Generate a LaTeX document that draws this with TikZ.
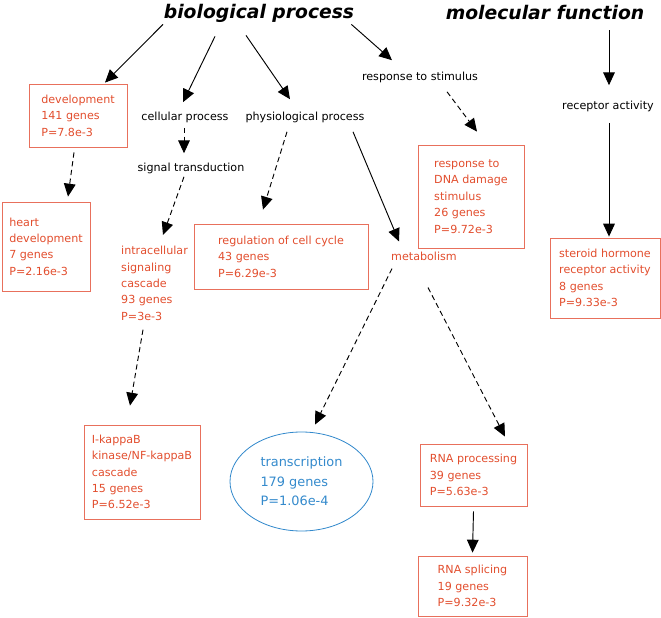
\documentclass[tikz,border=0pt]{standalone}
\usepackage{fontspec}
\setmainfont{DejaVu Sans}
\usetikzlibrary{arrows.meta,positioning,calc,shapes.geometric}
\definecolor{termred}{RGB}{226,78,46}
\definecolor{boxred}{RGB}{232,112,92}
\definecolor{termblue}{RGB}{52,138,204}

\begin{document}
\begin{tikzpicture}[
    x=0.03cm, y=-0.03cm,
    ontology/.style={font=\fontsize{16}{18}\selectfont\bfseries\itshape, inner sep=0pt},
    term/.style={font=\fontsize{9.5}{14}\selectfont, inner sep=1pt},
    hit/.style={draw=boxred, line width=0.7pt, text=termred, align=left, inner sep=0pt, font=\fontsize{9.5}{14}\selectfont},
    hitlabel/.style={text=termred, align=left, inner sep=0pt, font=\fontsize{9.5}{14}\selectfont},
    isa/.style={-{Triangle[length=11pt,width=10pt]}, line width=0.8pt},
    partof/.style={isa, dash pattern=on 4.5pt off 3pt}
]
    \useasboundingbox (0,0) rectangle (661,618);

    % Ontology roots
    \node[ontology] (bio) at (259,13) {biological process};
    \node[ontology] (mol) at (545,13) {molecular function};

    % Intermediate terms
    \node[term] (cell) at (185,117) {cellular process};
    \node[term] (phys) at (305,117) {physiological process};
    \node[term] (signal) at (191,168) {signal transduction};
    \node[term] (stim) at (420,77) {response to stimulus};
    \node[term] (rec) at (608,106) {receptor activity};
    \node[hitlabel] (metab) at (424,256) {metabolism};
    \node[hitlabel, anchor=north west] (intra) at (121,246)
        {intracellular\\signaling\\cascade\\93 genes\\P=3e-3};

    % Enriched terms
    \node[hit, minimum width=2.94cm, minimum height=1.89cm] (dev) at (78,115.5)
        {development\\141 genes\\P=7.8e-3};
    \node[hit, minimum width=2.64cm, minimum height=2.67cm] (heart) at (46,246.5)
        {heart\\development\\7 genes\\P=2.16e-3};
    \node[hit, minimum width=5.22cm, minimum height=1.95cm] (reg) at (281,256.5)
        {regulation of cell cycle\\43 genes\\P=6.29e-3};
    \node[hit, minimum width=3.18cm, minimum height=3.09cm] (dna) at (471,196.5)
        {response to\\DNA damage\\stimulus\\26 genes\\P=9.72e-3};
    \node[hit, minimum width=3.3cm, minimum height=2.4cm] (ster) at (605,278)
        {steroid hormone\\receptor activity\\8 genes\\P=9.33e-3};
    \node[hit, minimum width=3.48cm, minimum height=2.82cm] (ikb) at (142,472)
        {I-kappaB\\kinase/NF-kappaB\\cascade\\15 genes\\P=6.52e-3};
    \node[hit, minimum width=3.21cm, minimum height=1.86cm] (rnap) at (473.5,475)
        {RNA processing\\39 genes\\P=5.63e-3};
    \node[hit, minimum width=3.27cm, minimum height=1.8cm] (rnas) at (472.5,586)
        {RNA splicing\\19 genes\\P=9.32e-3};
    \node[ellipse, draw=termblue, line width=0.7pt, text=termblue, align=left,
          inner sep=0pt, minimum width=4.29cm, minimum height=2.97cm,
          font=\fontsize{11}{16.5}\selectfont] (trans) at (301.5,481.5)
        {transcription\\179 genes\\P=1.06e-4};

    % Solid links
    \draw[isa] ($(bio.south)+(-96,2)$) -- ($(dev.north)+(27,-1)$);
    \draw[isa] ($(bio.south)+(-44,14)$) -- ($(cell.north)+(-2,-8)$);
    \draw[isa] ($(bio.south)+(-13,13)$) -- ($(phys.north)+(-15,-11)$);
    \draw[isa] ($(bio.south east)+(-3,2)$) -- ($(stim.north)+(-28,-10)$);
    \draw[isa] ($(phys.south)+(48,8)$) -- ($(metab.north)+(-25,-10)$);
    \draw[isa] ($(mol.south)+(64,10)$) -- ($(rec.north)+(1,-14)$);
    \draw[isa] ($(rec.south)+(1,10)$) -- ($(ster.north)+(4,-1)$);
    \draw[isa] ($(rnap.south)+(0,5)$) -- ($(rnas.north)+(0,-3)$);

    % Dashed links
    \draw[partof] ($(cell.south)+(-1,4)$) -- ($(signal.north)+(-7,-8)$);
    \draw[partof] ($(dev.south)+(-4,5)$) -- ($(heart.north)+(22,-5)$);
    \draw[partof] ($(signal.south)+(-7,2)$) -- ($(intra.north west)+(42,-11)$);
    \draw[partof] ($(phys.south)+(-18,8)$) -- ($(reg.north)+(-18,-14)$);
    \draw[partof] ($(stim.south)+(27,8)$) -- ($(dna.north)+(6,-13)$);
    \draw[partof] ($(intra.south west)+(22,9)$) -- ($(ikb.north)+(-12,-19)$);
    \draw[partof] ($(metab.south)+(-32,8)$) -- ($(trans.north)+(13.5,-7)$);
    \draw[partof] ($(metab.south)+(4,27)$) -- ($(rnap.north)+(31.5,-7)$);
\end{tikzpicture}
\end{document}
